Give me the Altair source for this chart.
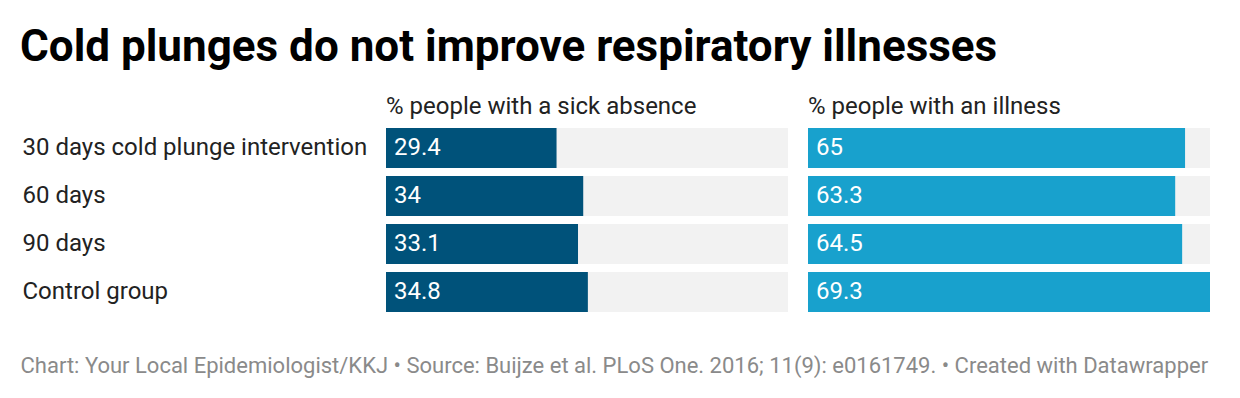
import altair as alt
import pandas as pd

groups = ["30 days cold plunge intervention", "60 days", "90 days", "Control group"]
sick_absence = [29.4, 34, 33.1, 34.8]
illness = [65, 63.3, 64.5, 69.3]
panel_titles = ["% people with a sick absence", "% people with an illness"]
bar_colors = ["#00527a", "#18a1cd"]

main_title = "Cold plunges do not improve respiratory illnesses"
footer = ("Chart: Your Local Epidemiologist/KKJ \u2022 Source: Buijze et al. PLoS One. 2016; "
          "11(9): e0161749. \u2022 Created with Datawrapper")

FONT = "Roboto"
vmax = max(sick_absence + illness)


def panel(values, title, color, first):
    df = pd.DataFrame({
        "group": groups,
        "value": values,
        "full": [vmax] * len(groups),
        "zero": [0] * len(groups),
        "label": [f"{v:g}" for v in values],
    })
    yaxis = alt.Axis(labelAlign="left", labelPadding=364, labelFontSize=24,
                     labelColor="#222222", labelFont=FONT, ticks=False,
                     domain=False, labelLimit=0, grid=False) if first else None
    y = alt.Y("group:N", sort=groups, title=None,
              scale=alt.Scale(paddingInner=8 / 48, paddingOuter=0), axis=yaxis)
    xscale = alt.Scale(domain=[0, vmax], nice=False, zero=True)
    if first:
        xaxis = alt.Axis(title=footer, labels=False, ticks=False, domain=False,
                         grid=False, titleX=-366, titleY=60, titleAlign="left",
                         titleBaseline="alphabetic", titleFontSize=22,
                         titleColor="#8a8a8a", titleFontWeight="normal",
                         titleFont=FONT)
    else:
        xaxis = None
    bg = alt.Chart(df).mark_bar(color="#f2f2f2").encode(
        x=alt.X("full:Q", scale=xscale, axis=xaxis), y=y)
    bar = alt.Chart(df).mark_bar(color=color).encode(
        x=alt.X("value:Q", scale=xscale, axis=xaxis), y=y)
    txt = alt.Chart(df).mark_text(align="left", dx=8, color="white", font=FONT,
                                  fontSize=24, baseline="middle").encode(
        x=alt.X("zero:Q", scale=xscale, axis=xaxis), y=y, text="label:N")
    return alt.layer(bg, bar, txt).properties(
        width=402, height=184,
        title=alt.TitleParams(title, anchor="start", frame="group", font=FONT,
                              fontSize=24, fontWeight="normal", color="#222222",
                              offset=-10, baseline="alphabetic"))


left = panel(sick_absence, panel_titles[0], bar_colors[0], True)
right = panel(illness, panel_titles[1], bar_colors[1], False)

chart = alt.hconcat(left, right, spacing=20, bounds="flush").properties(
    title=alt.TitleParams(main_title, anchor="start", font=FONT, fontSize=44,
                          fontWeight="bold", color="#000000", offset=25),
    padding={"left": 12, "top": 18, "right": 5, "bottom": 5},
    background="white",
).configure_view(stroke=None)

chart.save("out.html", embed_options={"renderer": "svg", "actions": False})
